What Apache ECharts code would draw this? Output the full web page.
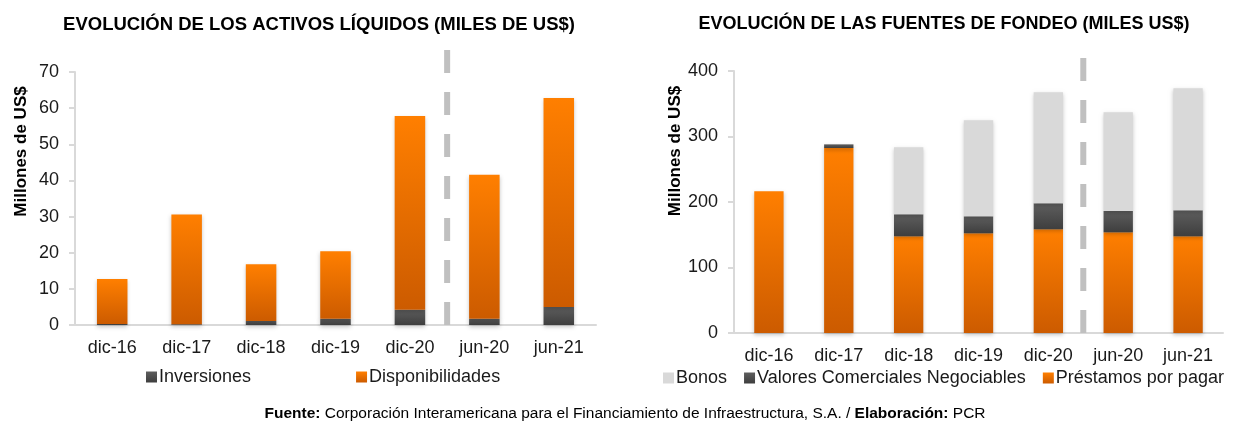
<!DOCTYPE html>
<html>
<head>
<meta charset="utf-8">
<script src="https://cdn.jsdelivr.net/npm/echarts@6/dist/echarts.min.js"></script>
<style>
html,body{margin:0;padding:0;background:#fff;}
#main{width:1234px;height:421px;}
</style>
</head>
<body>
<div id="main"></div>
<script>
// datos del grafico
var categorias = ['dic-16', 'dic-17', 'dic-18', 'dic-19', 'dic-20', 'jun-20', 'jun-21'];
// activos liquidos (millones de US$)
var inversiones = [0.3, 0.2, 1.1, 1.7, 4.2, 1.7, 5.0];
var disponibilidades = [12.4, 30.4, 15.7, 18.7, 53.6, 39.9, 57.8];
// fuentes de fondeo (millones de US$)
var prestamos = [216.3, 282.4, 147.6, 152.2, 158.3, 153.7, 147.6];
var valoresComerciales = [0, 5.6, 33.6, 25.9, 39.7, 32.6, 39.7];
var bonos = [0, 0, 102.3, 146.6, 169.4, 150.6, 186.2];
// linea divisoria entre cierre anual e interanual
var divisoria = [[5, 0], [5, 1]];

var fuente = 'Liberation Sans, Arial, sans-serif';
var naranja = new echarts.graphic.LinearGradient(0, 0, 0, 1, [
	{offset: 0, color: '#ff7f00'},
	{offset: 1, color: '#cc5b00'}
]);
var gris = new echarts.graphic.LinearGradient(0, 0, 0, 1, [
	{offset: 0, color: '#5e5e5e'},
	{offset: 1, color: '#3e3e3e'}
]);
var sombra = {shadowColor: 'rgba(0,0,0,0.22)', shadowBlur: 4, shadowOffsetY: 2};

function ejeY(grid, max, interval, padArriba) {
	return {
		type: 'value', gridIndex: grid, min: 0, max: max, interval: interval,
		name: 'Millones de US$', nameLocation: 'middle', nameGap: 45,
		nameTextStyle: {fontFamily: fuente, fontSize: 17, fontWeight: 'bold', color: '#000', padding: [0, 0, 0, padArriba]},
		axisLine: {show: true, lineStyle: {color: '#d9d9d9', width: 2}},
		axisTick: {show: true, length: 6, lineStyle: {color: '#d9d9d9', width: 2}},
		axisLabel: {fontFamily: fuente, fontSize: 18, color: '#1a1a1a', margin: 16},
		splitLine: {show: false}
	};
}
function ejeX(grid) {
	return {
		type: 'category', gridIndex: grid, data: categorias,
		axisLine: {lineStyle: {color: '#d9d9d9', width: 2}},
		axisTick: {show: false},
		axisLabel: {fontFamily: fuente, fontSize: 18, color: '#1a1a1a', margin: 14}
	};
}

var chart = echarts.init(document.getElementById('main'));
chart.setOption({
	animation: false,
	backgroundColor: '#fff',
	title: [
		{text: 'EVOLUCIÓN DE LOS ACTIVOS LÍQUIDOS (MILES DE US$)', left: 314, top: 10, textAlign: 'center',
			textStyle: {fontFamily: fuente, fontSize: 18.5, fontWeight: 'bold', color: '#000'}},
		{text: 'EVOLUCIÓN DE LAS FUENTES DE FONDEO (MILES US$)', left: 939, top: 10, textAlign: 'center',
			textStyle: {fontFamily: fuente, fontSize: 18, fontWeight: 'bold', color: '#000'}},
		{text: '{b|Fuente:} Corporación Interamericana para el Financiamiento de Infraestructura, S.A. / {b|Elaboración:} PCR',
			left: 620, top: 401, textAlign: 'center',
			textStyle: {fontFamily: fuente, fontSize: 15.5, fontWeight: 'normal', color: '#000',
				rich: {b: {fontFamily: fuente, fontSize: 15.5, fontWeight: 'bold', color: '#000'}}}}
	],
	legend: [
		{data: ['Inversiones', 'Disponibilidades'], left: 146, top: 368, itemGap: 105, padding: 0,
			itemWidth: 11, itemHeight: 11, icon: 'rect',
			textStyle: {fontFamily: fuente, fontSize: 18, color: '#1a1a1a', padding: [0, 0, 0, -3]}},
		{data: ['Bonos', 'Valores Comerciales Negociables', 'Préstamos por pagar'], left: 663, top: 369, itemGap: 17, padding: 0,
			itemWidth: 11, itemHeight: 11, icon: 'rect',
			textStyle: {fontFamily: fuente, fontSize: 18, color: '#1a1a1a', padding: [0, 0, 0, -3]}}
	],
	grid: [
		{left: 75, right: 638, top: 72, bottom: 96},
		{left: 734, right: 11, top: 71, bottom: 88},
		{left: 75, right: 638, top: 49, bottom: 96},
		{left: 734, right: 11, top: 56, bottom: 88}
	],
	xAxis: [
		ejeX(0),
		ejeX(1),
		{type: 'value', gridIndex: 2, min: 0, max: 7, show: false},
		{type: 'value', gridIndex: 3, min: 0, max: 7, show: false}
	],
	yAxis: [
		ejeY(0, 70, 10, 94),
		ejeY(1, 400, 100, 102),
		{type: 'value', gridIndex: 2, min: 0, max: 1, show: false},
		{type: 'value', gridIndex: 3, min: 0, max: 1, show: false}
	],
	series: [
		{name: 'Inversiones', type: 'bar', stack: 'a', xAxisIndex: 0, yAxisIndex: 0, data: inversiones,
			barCategoryGap: '59%', itemStyle: Object.assign({color: gris}, sombra)},
		{name: 'Disponibilidades', type: 'bar', stack: 'a', xAxisIndex: 0, yAxisIndex: 0, data: disponibilidades,
			barCategoryGap: '59%', itemStyle: Object.assign({color: naranja}, sombra)},
		{name: 'Préstamos por pagar', type: 'bar', stack: 'b', xAxisIndex: 1, yAxisIndex: 1, data: prestamos,
			barCategoryGap: '58%', itemStyle: Object.assign({color: naranja}, sombra)},
		{name: 'Valores Comerciales Negociables', type: 'bar', stack: 'b', xAxisIndex: 1, yAxisIndex: 1, data: valoresComerciales,
			barCategoryGap: '58%', itemStyle: Object.assign({color: gris}, sombra)},
		{name: 'Bonos', type: 'bar', stack: 'b', xAxisIndex: 1, yAxisIndex: 1, data: bonos,
			barCategoryGap: '58%', itemStyle: Object.assign({color: '#d9d9d9'}, sombra)},
		{type: 'line', xAxisIndex: 2, yAxisIndex: 2, data: divisoria, symbol: 'none', silent: true,
			lineStyle: {color: '#c0c0c0', width: 6, type: [23, 19]}},
		{type: 'line', xAxisIndex: 3, yAxisIndex: 3, data: divisoria, symbol: 'none', silent: true,
			lineStyle: {color: '#c0c0c0', width: 6, type: [23, 19]}}
	]
});
</script>
</body>
</html>
